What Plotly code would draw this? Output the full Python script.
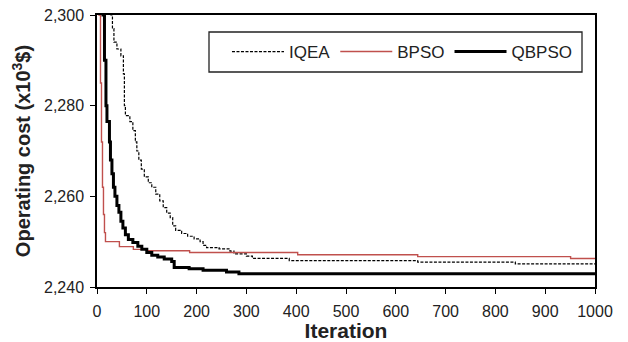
import plotly.graph_objects as go

# IQEA (dashed)
iqea_iter = [0, 28, 31, 34, 40, 48, 53, 55, 57, 66, 72, 77, 80, 84, 89, 95, 103, 110, 118, 126, 133, 140, 147, 152, 158, 170, 182, 195, 207, 213, 220, 245, 267, 275, 300, 312, 386, 644, 840, 1000]
iqea_cost = [2330, 2300, 2297, 2294, 2292.5, 2291, 2287, 2280, 2277.8, 2276.5, 2274.5, 2272, 2270, 2268, 2266, 2264.3, 2263, 2262, 2260.5, 2259, 2257.5, 2256.3, 2255.3, 2253.5, 2252.5, 2251.8, 2251.2, 2250.6, 2250.0, 2249.2, 2248.7, 2248.4, 2247.9, 2247.3, 2246.8, 2246.3, 2245.8, 2245.5, 2245.1, 2245.1]

# BPSO (red)
bpso_iter = [0, 4, 7, 9, 11, 13, 15, 17, 45, 73, 100, 186, 403, 644, 951, 1000]
bpso_cost = [2330, 2300, 2285, 2272, 2262, 2256, 2252, 2250, 2248.9, 2248.3, 2248.0, 2247.6, 2247.1, 2246.7, 2246.3, 2246.3]

# QBPSO (thick black)
qbpso_iter = [0, 12, 15, 18, 20, 25, 27, 30, 33, 36, 40, 44, 48, 52, 57, 63, 72, 82, 90, 100, 110, 122, 135, 150, 155, 185, 213, 260, 285, 1000]
qbpso_cost = [2330, 2300, 2290, 2280, 2276.5, 2272, 2268, 2265, 2262, 2260, 2258, 2256.5, 2254.5, 2253, 2251.5, 2250.5, 2249.8, 2249, 2248.3, 2247.6, 2247, 2246.6, 2246.2, 2245.6, 2244.3, 2244.0, 2243.7, 2243.3, 2242.9, 2242.9]

series_names = ["IQEA", "BPSO", "QBPSO"]
x_ticks = [0, 100, 200, 300, 400, 500, 600, 700, 800, 900, 1000]
y_ticks = [2240, 2260, 2280, 2300]

fig = go.Figure()
fig.add_trace(go.Scatter(x=iqea_iter, y=iqea_cost, name=series_names[0], mode="lines",
                         line=dict(color="black", width=1.2, dash="3px,1.5px", shape="hv")))
fig.add_trace(go.Scatter(x=bpso_iter, y=bpso_cost, name=series_names[1], mode="lines",
                         line=dict(color="#c0504d", width=1.4, shape="hv")))
fig.add_trace(go.Scatter(x=qbpso_iter, y=qbpso_cost, name=series_names[2], mode="lines",
                         line=dict(color="black", width=3, shape="hv")))

fig.update_layout(
    width=628, height=342,
    margin=dict(l=97, r=33, t=15, b=55),
    plot_bgcolor="white", paper_bgcolor="white",
    font=dict(family="Liberation Sans, Arial", size=16, color="#222"),
    showlegend=True,
    legend=dict(orientation="h", x=0.261, y=0.864, xanchor="left", yanchor="middle",
                borderwidth=0, bgcolor="rgba(0,0,0,0)",
                font=dict(size=17, color="#222"), traceorder="normal",
                itemwidth=52),
    shapes=[dict(type="rect", xref="paper", yref="paper",
                 x0=0.2249, x1=0.9739, y0=0.7904, y1=0.9375,
                 line=dict(color="#222", width=1.3), fillcolor="rgba(0,0,0,0)", layer="above")],
    xaxis=dict(range=[0, 1000], tickvals=x_ticks, showgrid=False, zeroline=False,
               showline=True, linecolor="black", linewidth=1.5, mirror=True,
               ticks="outside", ticklen=5, tickcolor="black", automargin=False,
               ticklabelstandoff=4,
               title=dict(text="<b>Iteration</b>", font=dict(size=21, color="#222"), standoff=7)),
    yaxis=dict(range=[2240, 2300], tickvals=y_ticks, tickformat=",d", showgrid=False, zeroline=False,
               showline=True, linecolor="black", linewidth=1.5, mirror=True,
               ticks="outside", ticklen=5, tickcolor="black", automargin=False,
               ticklabelstandoff=3,
               title=dict(text="<b>Operating cost (x10<sup>3</sup>$)</b>", font=dict(size=20, color="#222"), standoff=8)),
)

fig.write_html("out.html", config={"displayModeBar": False},
               post_script="document.body.style.margin='0';")
